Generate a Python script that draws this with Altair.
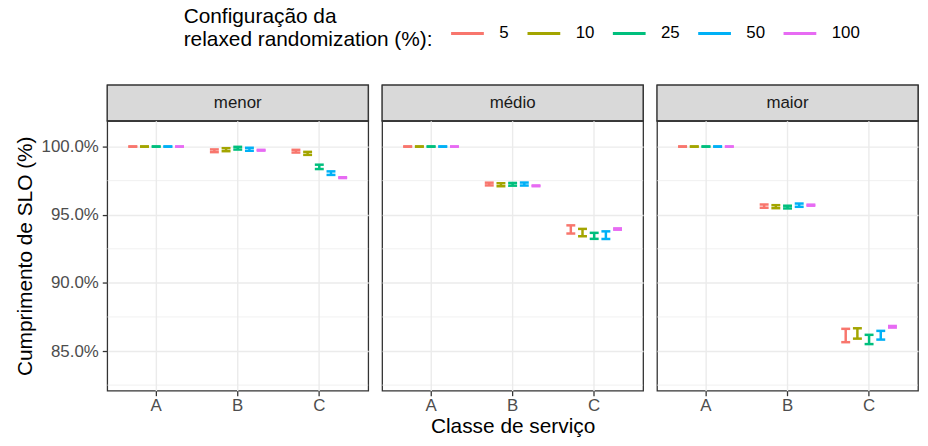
import altair as alt
import pandas as pd

groups = ["menor", "médio", "maior"]
classes = ["A", "B", "C"]
configs = ["5", "10", "25", "50", "100"]
colors = ["#F8766D", "#A3A500", "#00BF7D", "#00B0F6", "#E76BF3"]

# mean SLO compliance (%) per class (A, B, C) x config (5, 10, 25, 50, 100)
menor_mean = [
    [100.0, 100.0, 100.0, 100.0, 100.0],
    [99.69, 99.77, 99.88, 99.80, 99.73],
    [99.66, 99.50, 98.51, 98.05, 97.72],
]
menor_err = [
    [0.01, 0.01, 0.01, 0.01, 0.01],
    [0.10, 0.11, 0.10, 0.11, 0.03],
    [0.10, 0.11, 0.16, 0.13, 0.03],
]
medio_mean = [
    [100.0, 100.0, 100.0, 100.0, 100.0],
    [97.25, 97.20, 97.23, 97.25, 97.12],
    [93.92, 93.69, 93.45, 93.50, 93.95],
]
medio_err = [
    [0.01, 0.01, 0.01, 0.01, 0.01],
    [0.10, 0.11, 0.10, 0.11, 0.03],
    [0.30, 0.27, 0.22, 0.28, 0.05],
]
maior_mean = [
    [100.0, 100.0, 100.0, 100.0, 100.0],
    [95.63, 95.59, 95.56, 95.70, 95.70],
    [86.14, 86.29, 85.85, 86.16, 86.78],
]
maior_err = [
    [0.01, 0.01, 0.01, 0.01, 0.01],
    [0.12, 0.11, 0.10, 0.12, 0.04],
    [0.49, 0.38, 0.34, 0.32, 0.06],
]
y_ticks = [85, 90, 95, 100]
y_minor = [82.5, 87.5, 92.5, 97.5]

rows = []
for g, means, errs in [("menor", menor_mean, menor_err),
                       ("médio", medio_mean, medio_err),
                       ("maior", maior_mean, maior_err)]:
    for ci, c in enumerate(classes):
        for k, cfg in enumerate(configs):
            m = means[ci][k]
            e = errs[ci][k]
            rows.append(dict(grupo=g, classe=c, config=cfg, lo=m - e, hi=m + e))
df = pd.DataFrame(rows)
minor_df = pd.DataFrame({"v": y_minor})

W = 263
H = 272
SH = 36
FONT = "Liberation Sans"

color = alt.Color(
    "config:N",
    scale=alt.Scale(domain=configs, range=colors),
    sort=configs,
    legend=alt.Legend(
        title=["Configuração da", "relaxed randomization (%):"],
        orient="none", legendX=77, legendY=-70, direction="horizontal",
        titleOrient="left", titleAnchor="middle", titleBaseline="middle",
        symbolType="stroke", symbolSize=1089, symbolStrokeWidth=3,
        labelFontSize=17, titleFontSize=21, titleLineHeight=24,
        titleFontWeight="normal", titleColor="#000000", labelColor="#000000",
        labelOffset=14, columnPadding=12, titlePadding=17, titleLimit=600,
    ),
)


def panel(i, g):
    first = i == 0
    if first:
        yaxis = alt.Axis(
            values=y_ticks,
            labelExpr="format(datum.value, '.1f') + '%'",
            title="Cumprimento de SLO (%)",
            domain=False, grid=True,
            gridColor="#ebebeb", gridWidth=1.4,
            tickColor="#333333", tickSize=5, tickWidth=1.3,
            labelColor="#4d4d4d", labelFontSize=17, labelPadding=4,
            titleFontSize=21, titleFontWeight="normal", titleColor="#000000",
            titlePadding=6,
        )
    else:
        yaxis = alt.Axis(
            values=y_ticks, title=None, labels=False, ticks=False, domain=False,
            grid=True, gridColor="#ebebeb", gridWidth=1.4,
            labelPadding=0, tickSize=0, minExtent=0, maxExtent=0,
        )
    yscale = alt.Scale(domain=[82.09, 101.89], nice=False, zero=False)
    xaxis = alt.Axis(
        title="Classe de serviço" if i == 1 else None,
        labelAngle=0, domain=False, grid=True,
        gridColor="#ebebeb", gridWidth=1.4,
        tickColor="#333333", tickSize=5, tickWidth=1.3,
        labelColor="#4d4d4d", labelFontSize=17, labelPadding=2,
        titleFontSize=21, titleFontWeight="normal", titleColor="#000000",
        titlePadding=2,
    )
    x = alt.X("classe:N", scale=alt.Scale(domain=classes, paddingInner=0, paddingOuter=0.1), axis=xaxis)
    xo = alt.XOffset("config:N", sort=configs,
                     scale=alt.Scale(domain=configs, paddingInner=0, paddingOuter=0.99))
    base = alt.Chart(df).transform_filter(alt.datum.grupo == g)

    minor = alt.Chart(minor_df).mark_rule(color="#ebebeb", strokeWidth=0.7).encode(
        y=alt.Y("v:Q", scale=yscale, axis=yaxis)
    )
    stems = base.mark_rule(strokeWidth=2.5, opacity=1).encode(
        x=x, xOffset=xo,
        y=alt.Y("lo:Q", scale=yscale, axis=yaxis),
        y2="hi:Q",
        color=color,
    )
    caps = base.transform_fold(["lo", "hi"], as_=["k", "val"]).mark_tick(
        orient="horizontal", size=9, thickness=2.5, opacity=1
    ).encode(
        x=x, xOffset=xo,
        y=alt.Y("val:Q", scale=yscale, axis=yaxis),
        color=color,
    )
    plot = alt.layer(minor, stems, caps).properties(width=W, height=H)

    lab = pd.DataFrame({"lab": [g]})
    strip_bg = alt.Chart(lab).mark_rect(fill="#d9d9d9", stroke="#333333", strokeWidth=1.3).encode(
        x=alt.value(0), x2=alt.value(W), y=alt.value(0), y2=alt.value(SH)
    )
    strip_tx = alt.Chart(lab).mark_text(fontSize=17, color="#1a1a1a", baseline="middle", align="center").encode(
        x=alt.value(W / 2), y=alt.value(SH / 2), text="lab:N"
    )
    strip = alt.layer(strip_bg, strip_tx).properties(width=W, height=SH)
    return alt.vconcat(strip, plot, spacing=0, bounds="flush")


chart = alt.hconcat(
    *[panel(i, g) for i, g in enumerate(groups)], spacing=10
).configure(
    font=FONT, padding={"left": 5, "top": 6, "right": 0, "bottom": 0}
).configure_view(
    stroke="#333333", strokeWidth=1.3
)

chart.save("out.html", embed_options={"renderer": "svg", "actions": False})
